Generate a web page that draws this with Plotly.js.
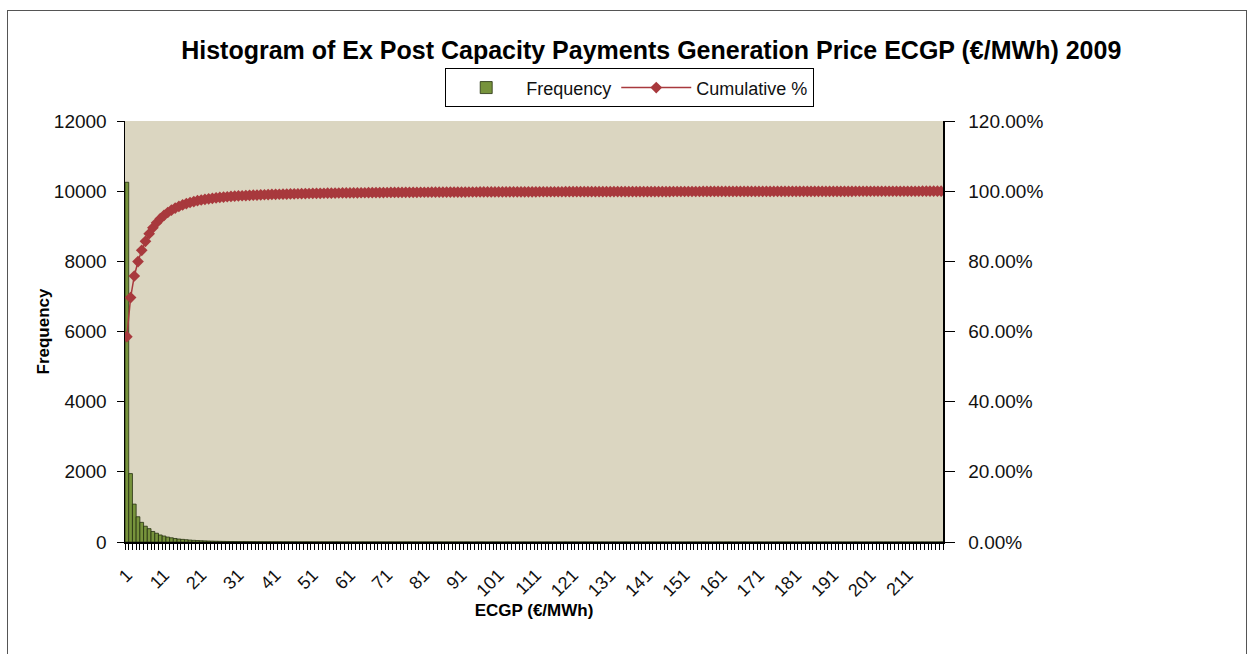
<!DOCTYPE html>
<html>
<head>
<meta charset="utf-8">
<script src="https://cdn.plot.ly/plotly-3.0.1.min.js"></script>
<style>
html,body{margin:0;padding:0;background:#fff;}
#frame{position:absolute;left:7px;top:10px;width:1240px;height:660px;border:1px solid #555;box-sizing:border-box;}
#chart{position:absolute;left:0;top:0;width:1250px;height:654px;}
</style>
</head>
<body>
<div id="frame"></div>
<div id="chart"></div>
<script>
// Bins (ECGP €/MWh)
var bins = [1,2,3,4,5,6,7,8,9,10,11,12,13,14,15,16,17,18,19,20,
21,22,23,24,25,26,27,28,29,30,31,32,33,34,35,36,37,38,39,40,
41,42,43,44,45,46,47,48,49,50,51,52,53,54,55,56,57,58,59,60,
61,62,63,64,65,66,67,68,69,70,71,72,73,74,75,76,77,78,79,80,
81,82,83,84,85,86,87,88,89,90,91,92,93,94,95,96,97,98,99,100,
101,102,103,104,105,106,107,108,109,110,111,112,113,114,115,116,117,118,119,120,
121,122,123,124,125,126,127,128,129,130,131,132,133,134,135,136,137,138,139,140,
141,142,143,144,145,146,147,148,149,150,151,152,153,154,155,156,157,158,159,160,
161,162,163,164,165,166,167,168,169,170,171,172,173,174,175,176,177,178,179,180,
181,182,183,184,185,186,187,188,189,190,191,192,193,194,195,196,197,198,199,200,
201,202,203,204,205,206,207,208,209,210,211,212,213,214,215,216,217,218,219,220];

// Frequency per bin
var frequency = [10254,1950,1080,720,560,450,380,300,250,200,170,140,120,100,85,75,65,55,48,42,
36,32,28,25,22,20,18,16,14,13,12,11,10,9,9,8,8,7,7,6,
6,6,5,5,5,5,4,4,4,4,4,3,3,3,3,3,3,3,2,2,
2,2,2,2,2,2,2,2,2,2,1,2,1,2,1,1,2,1,1,1,
1,1,1,1,1,1,1,1,1,1,1,1,1,0,1,1,1,0,1,1,
1,0,1,1,0,1,0,1,0,1,0,1,0,1,0,0,1,0,1,0,
1,0,0,1,0,1,0,0,1,0,0,1,0,0,1,0,0,1,0,0,
1,0,0,0,1,0,0,1,0,0,0,1,0,0,0,1,0,0,0,1,
0,0,1,0,0,0,1,0,0,0,1,0,0,0,0,1,0,0,0,1,
0,0,0,1,0,0,0,0,1,0,0,1,0,0,0,0,1,0,0,0,
0,0,1,0,0,0,0,0,1,0,0,0,0,0,1,0,0,0,0,2];

// Tick labels on the category axis
var tickValues = [1,11,21,31,41,51,61,71,81,91,101,111,121,131,141,151,161,171,181,191,201,211];
var tickLabels = ["1","11","21","31","41","51","61","71","81","91","101","111","121","131","141","151","161","171","181","191","201","211"];

// Cumulative % derived from the frequencies
var total = frequency.reduce(function(a,b){return a+b;},0);
var cumulative = [];
var run = 0;
for (var i=0;i<frequency.length;i++){ run += frequency[i]; cumulative.push(run/total); }

var font = "Liberation Sans, Arial, sans-serif";

var traces = [
  {
    type:'bar', name:'Frequency', x:bins, y:frequency,
    marker:{color:'#77933c', line:{color:'#25300f', width:0.8}},
    xaxis:'x', yaxis:'y'
  },
  {
    type:'scatter', mode:'lines+markers', name:'Cumulative %', x:bins, y:cumulative,
    line:{color:'#a8393d', width:1.5},
    marker:{symbol:'diamond', size:9, color:'#a8393d'},
    xaxis:'x', yaxis:'y2'
  }
];

var layout = {
  width:1250, height:654,
  paper_bgcolor:'rgba(0,0,0,0)',
  plot_bgcolor:'#dbd6c1',
  margin:{l:125, r:307, t:121, b:112},
  bargap:0,
  showlegend:true,
  title:{text:'<b>Histogram of Ex Post Capacity Payments Generation Price ECGP (€/MWh) 2009</b>',
         font:{family:font, size:25, color:'#000'}, xref:'container', x:0.521, xanchor:'center',
         yref:'container', y:0.923, yanchor:'middle'},
  legend:{orientation:'h', x:0.617, xanchor:'center', y:1.125, yanchor:'top',
          bgcolor:'#fff', bordercolor:'#000', borderwidth:1, itemwidth:70,
          font:{family:font, size:18, color:'#111'}, traceorder:'normal'},
  xaxis:{
    type:'linear', range:[0.5,220.5],
    tickmode:'array', tickvals:tickValues, ticktext:tickLabels,
    tickangle:-45, ticks:'', showgrid:false, zeroline:false, ticklabelstandoff:14,
    showline:true, linecolor:'#000', linewidth:1.5,
    minor:{tick0:0.5, dtick:1, ticks:'outside', ticklen:6, tickcolor:'#000', tickwidth:1, showgrid:false},
    tickfont:{family:font, size:18, color:'#111'},
    title:{text:'<b>ECGP (€/MWh)</b>', font:{family:font, size:17, color:'#000'}, standoff:4}
  },
  yaxis:{
    range:[0,12000], dtick:2000, tickformat:'d', ticks:'outside', ticklen:7, tickcolor:'#000',
    ticklabelstandoff:6,
    showgrid:false, zeroline:false, showline:true, linecolor:'#000', linewidth:1.5,
    tickfont:{family:font, size:19, color:'#111'},
    title:{text:'<b>Frequency</b>', font:{family:font, size:17, color:'#000'}, standoff:0}
  },
  yaxis2:{
    overlaying:'y', side:'right', range:[0,1.2], dtick:0.2, tickformat:'.2%',
    ticks:'outside', ticklen:10, tickcolor:'#000', ticklabelstandoff:10,
    showgrid:false, zeroline:false, showline:true, linecolor:'#000', linewidth:1.5,
    tickfont:{family:font, size:19, color:'#111'}
  }
};

Plotly.newPlot('chart', traces, layout, {displayModeBar:false, staticPlot:true});
</script>
</body>
</html>
